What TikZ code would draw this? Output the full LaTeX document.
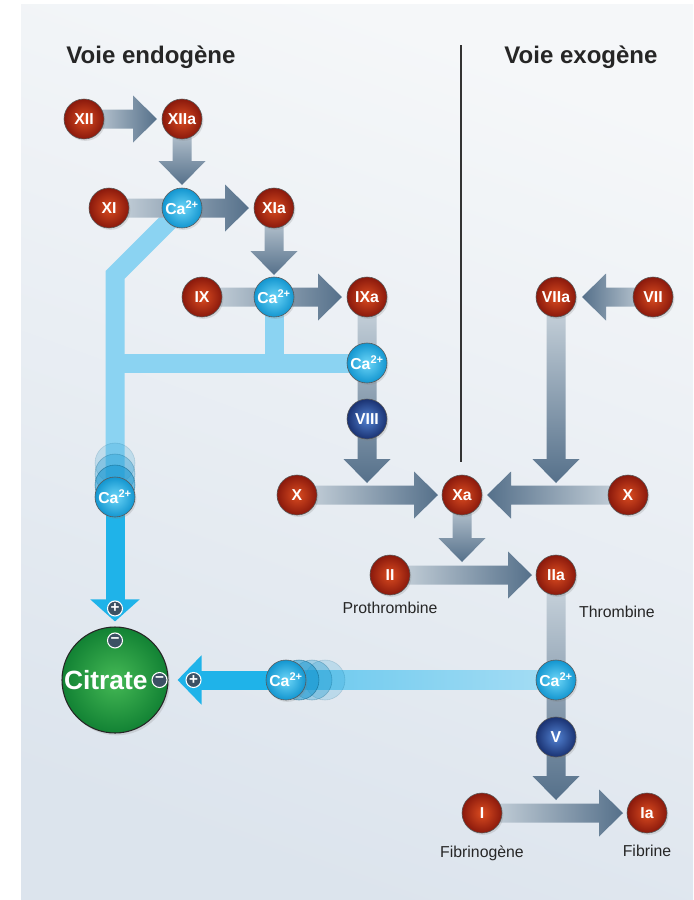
\documentclass[tikz,border=0pt]{standalone}
\usepackage{fontspec}
\setmainfont{Liberation Sans}
\usepackage{xcolor}
\usetikzlibrary{arrows.meta, positioning, calc, shadows}

\definecolor{redin}{HTML}{DB4C20}
\definecolor{redout}{HTML}{8A190C}
\definecolor{cain}{HTML}{6DD6F8}
\definecolor{caout}{HTML}{1396D0}
\definecolor{bluein}{HTML}{5282D2}
\definecolor{blueout}{HTML}{1A3272}
\definecolor{citin}{HTML}{45B955}
\definecolor{citout}{HTML}{128234}
\definecolor{arrlight}{HTML}{CDD7DF}
\definecolor{arrdark}{HTML}{55708A}
\definecolor{bandpale}{HTML}{A6DDF4}
\definecolor{bandlight}{HTML}{8BD3F2}
\definecolor{bandmid}{HTML}{68C8EE}
\definecolor{bandbright}{HTML}{1FB3E9}
\definecolor{signfill}{HTML}{3C5164}
\definecolor{bgtop}{HTML}{F5F7F9}
\definecolor{bgbot}{HTML}{DCE4ED}

\pgfdeclarelayer{back}
\pgfdeclarelayer{flow}
\pgfsetlayers{back,flow,main}

% fat shaded arrows: tail node, target, stop before target centre
\newcommand{\arrR}[3]{%
  \shade[left color=arrlight, right color=arrdark]
    ($(#1)+(0,-9.5)$) -- ($(#2)+(-#3-24,-9.5)$) -- ($(#2)+(-#3-24,-23.5)$)
    -- ($(#2)+(-#3,0)$) -- ($(#2)+(-#3-24,23.5)$) -- ($(#2)+(-#3-24,9.5)$)
    -- ($(#1)+(0,9.5)$) -- cycle;}
\newcommand{\arrL}[3]{%
  \shade[left color=arrdark, right color=arrlight]
    ($(#1)+(0,-9.5)$) -- ($(#2)+(#3+24,-9.5)$) -- ($(#2)+(#3+24,-23.5)$)
    -- ($(#2)+(#3,0)$) -- ($(#2)+(#3+24,23.5)$) -- ($(#2)+(#3+24,9.5)$)
    -- ($(#1)+(0,9.5)$) -- cycle;}
\newcommand{\arrD}[3]{%
  \shade[top color=arrlight, bottom color=arrdark]
    ($(#1)+(-9.5,0)$) -- ($(#2)+(-9.5,-#3-24)$) -- ($(#2)+(-23.5,-#3-24)$)
    -- ($(#2)+(0,-#3)$) -- ($(#2)+(23.5,-#3-24)$) -- ($(#2)+(9.5,-#3-24)$)
    -- ($(#1)+(9.5,0)$) -- cycle;}

\begin{document}
\begin{tikzpicture}[
    x=0.3mm, y=-0.3mm,
    font=\fontsize{13}{15}\selectfont,
    factor/.style={circle, minimum size=12mm, inner sep=0pt, draw=black!65, line width=0.5pt,
      text=white, font=\fontsize{13.5}{15}\selectfont\bfseries,
      drop shadow={shadow xshift=1.2pt, shadow yshift=-1.6pt, opacity=0.22}},
    zymo/.style={factor, inner color=redin, outer color=redout},
    ion/.style={factor, inner color=cain, outer color=caout},
    cofac/.style={factor, inner color=bluein, outer color=blueout},
    citr/.style={circle, minimum size=31.8mm, inner sep=0pt, draw=black!85, line width=0.9pt,
      inner color=citin, outer color=citout, text=white, font=\fontsize{22.5}{26}\selectfont\bfseries,
      drop shadow={shadow xshift=1.5pt, shadow yshift=-2pt, opacity=0.22}},
    band/.style={line width=5.7mm, draw=bandlight},
    sign/.style={circle, minimum size=4.5mm, inner sep=0pt, fill=signfill, draw=white, line width=0.9pt,
      text=white, font=\fontsize{13}{13}\selectfont\bfseries},
    ghost/.style={draw=caout!60!black, fill=caout, line width=0.5pt},
    headline/.style={font=\fontsize{20.5}{24}\selectfont\bfseries, text=black!85},
    lbl/.style={font=\fontsize{13.5}{16}\selectfont, text=black!85},
    divider/.style={line width=1pt, draw=black!80}
]
\useasboundingbox (0,0) rectangle (693,900);

\node[headline] (endo) at (151,57) {Voie endogène};
\node[headline] (exo) at (581,57) {Voie exogène};
\coordinate (divtop) at (461,45);
\coordinate (divbot) at (461,462);
\draw[divider] (divtop) -- (divbot);

% endogenous cascade
\node[zymo] (XII) at (84,119) {XII};
\node[zymo] (XIIa) at (182,119) {XIIa};
\node[zymo] (XI) at (109,208) {XI};
\node[ion] (Ca1) at (182,208) {Ca\textsuperscript{2+}};
\node[zymo] (XIa) at (274,208) {XIa};
\node[zymo] (IX) at (202,297) {IX};
\node[ion] (Ca2) at (274,297) {Ca\textsuperscript{2+}};
\node[zymo] (IXa) at (367,297) {IXa};
\node[ion] (Ca3) at (367,363) {Ca\textsuperscript{2+}};
\node[cofac] (VIII) at (367,419) {VIII};

% exogenous
\node[zymo] (VIIa) at (556,297) {VIIa};
\node[zymo] (VII) at (653,297) {VII};

% common path
\node[zymo] (Xl) at (297,495) {X};
\node[zymo] (Xa) at (462,495) {Xa};
\node[zymo] (Xr) at (628,495) {X};
\node[zymo] (II) at (390,575) {II};
\node[zymo] (IIa) at (556,575) {IIa};
\node[lbl, below=0.8mm of II] (proth) {Prothrombine};
\node[lbl] (thromb) at (617,612) {Thrombine};
\node[ion] (Ca6) at (556,680) {Ca\textsuperscript{2+}};
\node[cofac] (V) at (556,737) {V};
\node[zymo] (I) at (482,813) {I};
\node[zymo] (Ia) at (647,813) {Ia};
\node[lbl, below=2.4mm of I] (fibgen) {Fibrinogène};
\node[lbl, below=2.4mm of Ia] (fib) {Fibrine};

% citrate and the trapped calcium
\node[citr] (cit) at (115,680) {Citrate\kern5.5mm};
\foreach \d/\o in {34/0.18, 23/0.32, 12/0.55}
  \filldraw[ghost, fill opacity=\o, draw opacity=\o] (115,497-\d) circle (6mm);
\node[ion] (Ca4) at (115,497) {Ca\textsuperscript{2+}};
\foreach \d/\o in {39/0.18, 26/0.32, 13/0.55}
  \filldraw[ghost, fill opacity=\o, draw opacity=\o] (286+\d,680) circle (6mm);
\node[ion] (Ca5) at (286,680) {Ca\textsuperscript{2+}};

\coordinate (cittip) at ($(cit.north)+(0,-5)$);
\coordinate (citend) at ($(cit.east)+(9,0)$);
\node[sign] (plusv) at ($(cittip)+(0,-13)$) {+};
\node[sign] (minusv) at ($(cit.north)+(0,14)$) {−};
\node[sign] (minush) at ($(cit.east)+(-9,0)$) {−};
\node[sign] (plush) at ($(citend)+(16,0)$) {+};

\coordinate (bend) at (115,275);
\coordinate (jIX) at (IXa |- Xa);
\coordinate (jVII) at (VIIa |- Xa);
\coordinate (jXa) at (Xa |- II);
\coordinate (jIIa) at (IIa |- I);

\begin{pgfonlayer}{flow}
  % calcium bands
  \draw[band] (Ca1.center) -- (bend) -- (Ca4.center);
  \draw[band] (Ca2.center) -- (Ca2.center |- Ca3.center);
  \draw[band] (Ca3.center) -- (Ca3.center -| Ca4.center);
  \draw[band, draw=bandbright, -{Triangle[width=14.4mm, length=6.6mm]}] (Ca4.center) -- (cittip);
  \shade[left color=bandmid, right color=bandpale] ($(Ca5)+(0,-9.5)$) rectangle ($(Ca6)+(0,9.5)$);
  \draw[band, draw=bandbright, -{Triangle[width=14.4mm, length=7.2mm]}] (Ca5.center) -- (citend);
  % activation arrows
  \arrR{XII}{XIIa}{25}
  \arrD{XIIa}{Ca1}{23}
  \arrR{XI}{XIa}{25}
  \arrD{XIa}{Ca2}{22}
  \arrR{IX}{IXa}{25}
  \arrD{IXa}{jIX}{12}
  \arrL{VII}{VIIa}{26}
  \arrD{VIIa}{jVII}{12}
  \arrR{Xl}{Xa}{24}
  \arrL{Xr}{Xa}{25}
  \arrD{Xa}{jXa}{13}
  \arrR{II}{IIa}{24}
  \arrD{IIa}{jIIa}{13}
  \arrR{I}{Ia}{24}
\end{pgfonlayer}

\begin{pgfonlayer}{back}
  \shade[top color=bgtop, bottom color=bgbot, shading angle=-20] (21,4) rectangle (693,900);
\end{pgfonlayer}
\end{tikzpicture}
\end{document}
